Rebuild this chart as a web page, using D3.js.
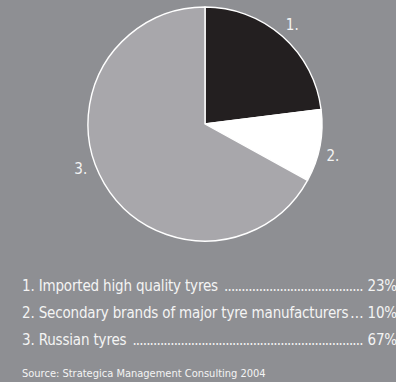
<!DOCTYPE html>
<html>
<head>
<meta charset="utf-8">
<script src="https://cdn.jsdelivr.net/npm/d3@7"></script>
<style>
  html, body { margin: 0; padding: 0; background: #8e8f93; overflow: hidden; }
  svg { display: block; }
  text { font-family: "DejaVu Sans Condensed", "DejaVu Sans", sans-serif; fill: #f4f4f4; }
</style>
</head>
<body>
<svg id="chart" width="396" height="382"></svg>
<script>
// Tyre market shares (%)
const labels = ["1.", "2.", "3."];
const categories = [
  "1. Imported high quality tyres",
  "2. Secondary brands of major tyre manufacturers",
  "3. Russian tyres"
];
const shares = [23, 10, 67];
const sliceColors = ["#231f20", "#ffffff", "#a8a7ab"];
const source = "Source: Strategica Management Consulting 2004";

const W = 396, H = 382;
const cx = 205, cy = 124, R = 117;
const svg = d3.select("#chart");

const pie = d3.pie().sort(null).value(d => d)(shares);
const arc = d3.arc().innerRadius(0).outerRadius(R);
const g = svg.append("g").attr("transform", `translate(${cx},${cy})`);

g.selectAll("path.slice")
  .data(pie)
  .join("path")
  .attr("class", "slice")
  .attr("d", arc)
  .attr("fill", (d, i) => sliceColors[i])
  .attr("stroke", "#ffffff")
  .attr("stroke-width", 1.4)
  .attr("stroke-linejoin", "round");

// slice numbers sit just outside the rim; the large slice's number is nudged upward
const labelNudge = [0, 0.06, 0.19];
const labelRadius = 132;
g.selectAll("text.num")
  .data(pie)
  .join("text")
  .attr("class", "num")
  .attr("text-anchor", "middle")
  .attr("dominant-baseline", "central")
  .style("font-size", "15px")
  .attr("x", (d, i) => labelRadius * Math.sin((d.startAngle + d.endAngle) / 2 + labelNudge[i]))
  .attr("y", (d, i) => -labelRadius * Math.cos((d.startAngle + d.endAngle) / 2 + labelNudge[i]))
  .text((d, i) => labels[i]);

// legend with dotted leaders
const legendX = 22, pctRight = 397, fs = "15px", tracking = "-0.17px";
const rowY = d3.scaleLinear().domain([0, 1]).range([291, 318]);
const rows = svg.append("g");
categories.forEach((name, i) => {
  const y = rowY(i);
  const t = rows.append("text").attr("x", legendX).attr("y", y)
    .style("font-size", fs).style("letter-spacing", tracking).text(name);
  const p = rows.append("text").attr("x", pctRight).attr("y", y)
    .attr("text-anchor", "end").style("font-size", fs).style("letter-spacing", tracking)
    .text(shares[i] + "%");
  const textEnd = legendX + t.node().getComputedTextLength() + (i === 1 ? 2 : 6);
  const pctStart = pctRight - p.node().getComputedTextLength() - 4;
  const lead = rows.append("text").attr("x", textEnd).attr("y", y).style("font-size", fs);
  lead.text(".");
  const dw = lead.node().getComputedTextLength();
  const n = Math.max(1, Math.floor((pctStart - textEnd) / (dw * 0.8)));
  lead.text(".".repeat(n)).attr("textLength", pctStart - textEnd).attr("lengthAdjust", "spacing");
});

svg.append("text").attr("x", legendX).attr("y", 377)
  .style("font-size", "11px").text(source);
</script>
</body>
</html>
